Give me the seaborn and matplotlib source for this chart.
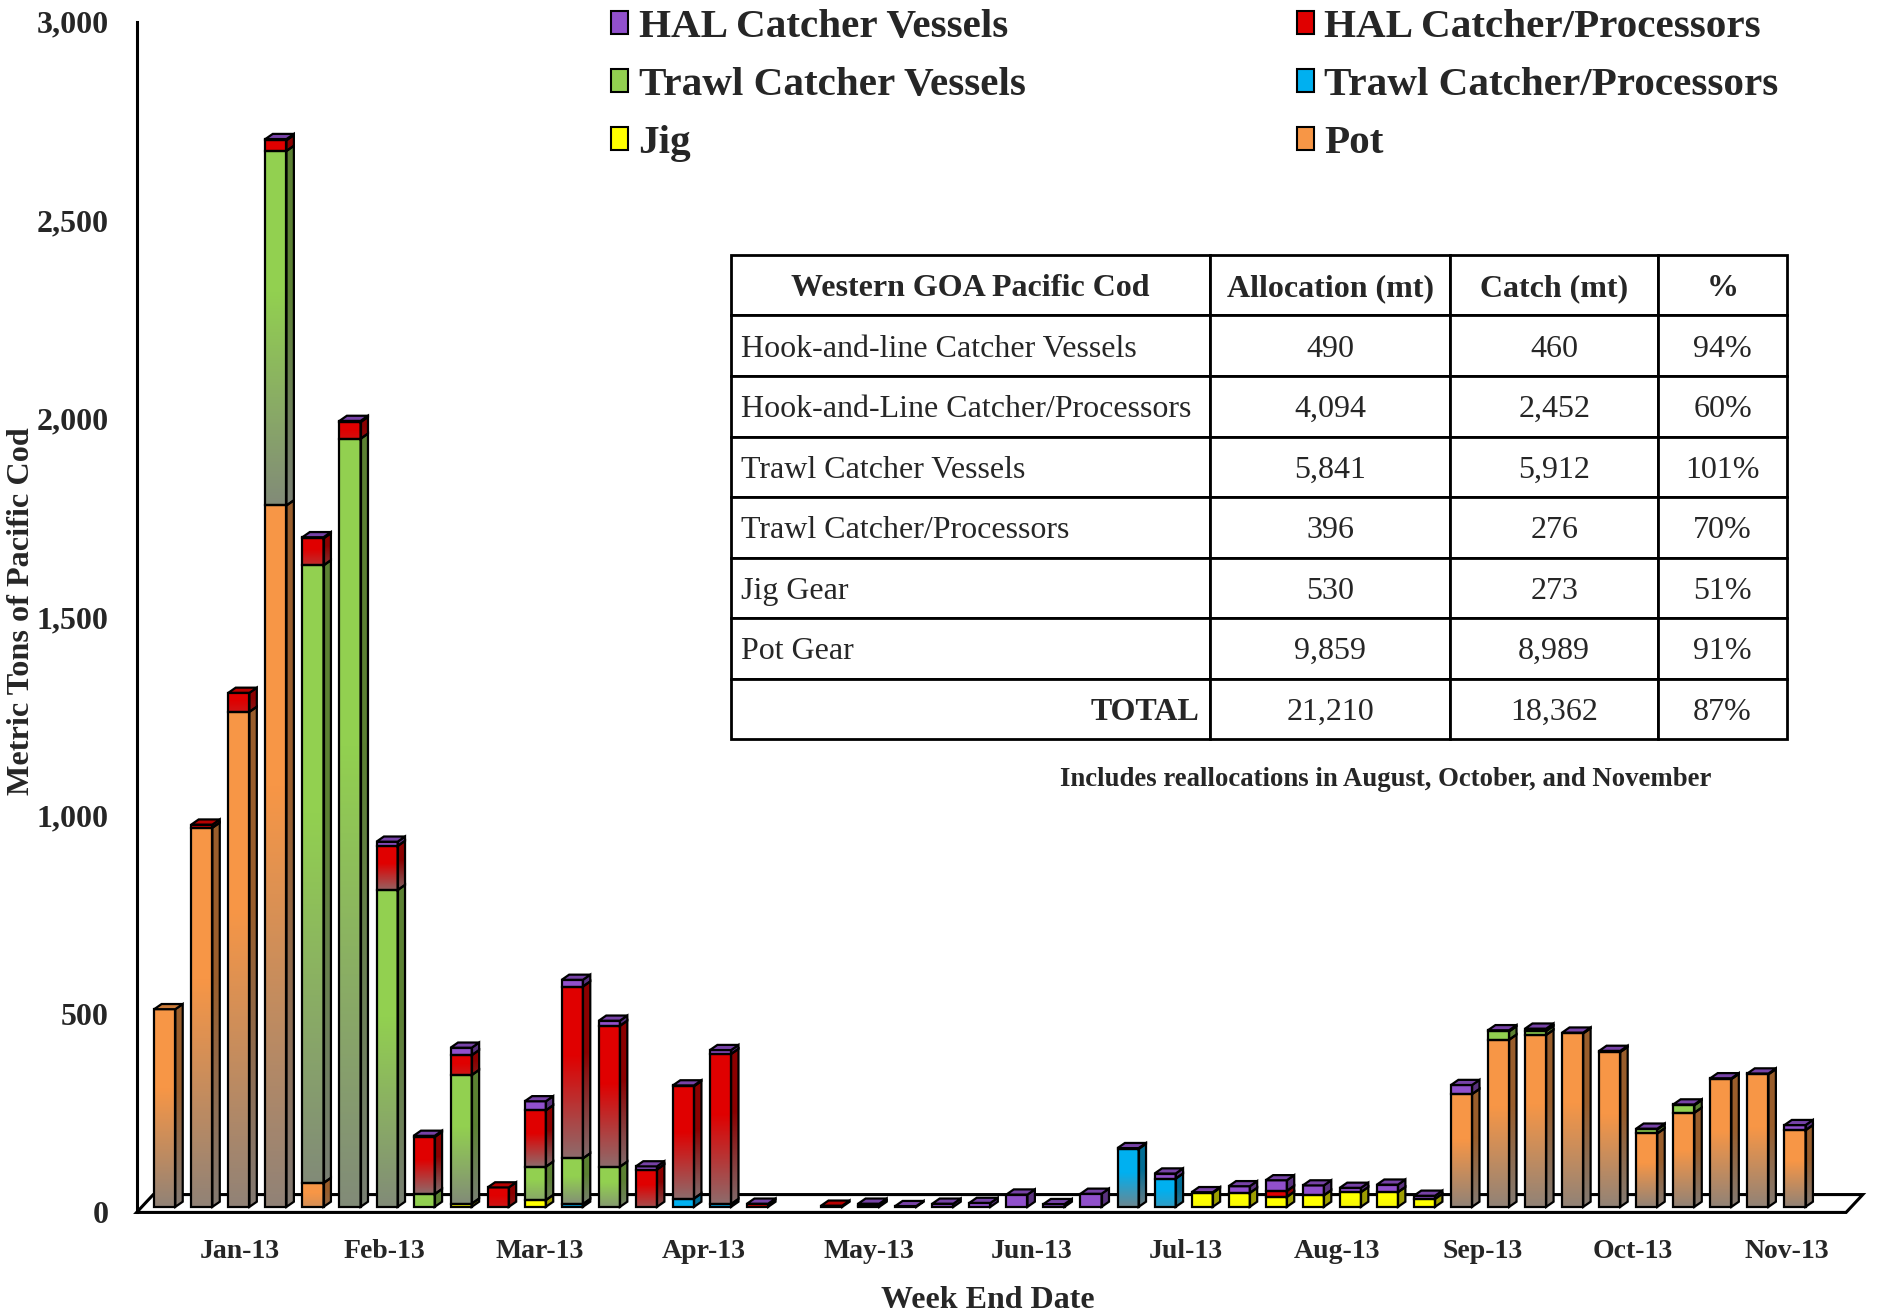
import numpy as np
import pandas as pd
import matplotlib
matplotlib.use("Agg")
import matplotlib.pyplot as plt
import seaborn as sns
from matplotlib.patches import Polygon, Rectangle, Patch
from matplotlib.colors import to_rgb

# Weekly Western GOA Pacific cod catch (mt), week 0 = first week of Jan-13
weeks = list(range(45))

pot = [498, 955, 1247, 1767, 60, 0, 0, 0, 0, 0,
       0, 0, 0, 0, 0, 0, 0, 0, 0, 0,
       0, 0, 0, 0, 0, 0, 0, 0, 0, 0,
       0, 0, 0, 0, 0, 284, 421, 433, 437, 390,
       185, 237, 322, 334, 193]
jig = [0, 0, 0, 0, 0, 0, 0, 0, 8, 0,
       17, 0, 0, 0, 0, 0, 0, 0, 0, 0,
       0, 0, 0, 0, 0, 0, 0, 0, 35, 35,
       25, 29, 37, 37, 20, 0, 0, 0, 0, 0,
       0, 0, 0, 0, 0]
trawl_cp = [0, 0, 0, 0, 0, 0, 0, 0, 0, 0,
            0, 7, 0, 0, 21, 7, 0, 0, 0, 0,
            0, 0, 0, 0, 0, 0, 146, 71, 0, 0,
            0, 0, 0, 0, 0, 0, 0, 0, 0, 0,
            0, 0, 0, 0, 0]
trawl_cv = [0, 0, 0, 893, 1556, 1935, 798, 32, 324, 0,
            84, 115, 101, 0, 0, 0, 0, 0, 0, 0,
            0, 0, 0, 0, 0, 0, 0, 0, 0, 0,
            0, 0, 0, 0, 0, 0, 21, 10, 0, 0,
            10, 19, 0, 0, 0]
hal_cp = [0, 8, 48, 27, 68, 42, 111, 144, 50, 49,
          142, 433, 355, 94, 283, 378, 6, 0, 3, 3,
          0, 0, 0, 0, 0, 0, 0, 0, 0, 0,
          15, 0, 0, 0, 0, 0, 0, 0, 0, 0,
          0, 0, 0, 0, 0]
hal_cv = [0, 0, 0, 3, 3, 3, 11, 3, 19, 0,
          23, 17, 13, 8, 2, 10, 2, 0, 0, 5,
          2, 8, 10, 31, 7, 33, 2, 13, 2, 17,
          27, 25, 11, 19, 8, 23, 3, 6, 2, 3,
          2, 2, 2, 2, 13]

# stacking order bottom -> top
series = ["Pot", "Jig", "Trawl Catcher/Processors", "Trawl Catcher Vessels",
          "HAL Catcher/Processors", "HAL Catcher Vessels"]
values = [pot, jig, trawl_cp, trawl_cv, hal_cp, hal_cv]
colors = ["#F79646", "#FFFF00", "#00B0F0", "#92D050", "#E00000", "#9150CC"]
legend_order = ["HAL Catcher Vessels", "Trawl Catcher Vessels", "Jig",
                "HAL Catcher/Processors", "Trawl Catcher/Processors", "Pot"]

month_labels = ["Jan-13", "Feb-13", "Mar-13", "Apr-13", "May-13", "Jun-13",
                "Jul-13", "Aug-13", "Sep-13", "Oct-13", "Nov-13"]
month_label_pos = [2.02, 5.93, 10.13, 14.56, 19.0, 23.4, 27.56, 31.63, 35.58, 39.63, 43.77]
month_tick_pos = [-0.76, 3.22, 7.22, 11.22, 15.22, 19.22, 23.22, 27.22, 31.22, 35.22, 39.22, 43.22]
y_ticks = [0, 500, 1000, 1500, 2000, 2500, 3000]
y_tick_labels = ["0", "500", "1,000", "1,500", "2,000", "2,500", "3,000"]

table_header = ["Western GOA Pacific Cod", "Allocation (mt)", "Catch (mt)", "%"]
table_rows = [
    ["Hook-and-line Catcher Vessels", "490", "460", "94%"],
    ["Hook-and-Line Catcher/Processors", "4,094", "2,452", "60%"],
    ["Trawl Catcher Vessels", "5,841", "5,912", "101%"],
    ["Trawl Catcher/Processors", "396", "276", "70%"],
    ["Jig Gear", "530", "273", "51%"],
    ["Pot Gear", "9,859", "8,989", "91%"],
    ["TOTAL", "21,210", "18,362", "87%"],
]
note = "Includes reallocations in August, October, and November"

# 3-D look
BASE = 14          # bars stand a little behind the front edge of the floor
BAR_W = 0.57
DX, DY = 0.2, 13   # depth of each column
FLOOR_DX, FLOOR_DY = 0.45, 45
LW = 1.6

sns.set_style("white")
plt.rcParams["font.family"] = ["Liberation Serif", "DejaVu Serif"]

fig = plt.figure(figsize=(18.79, 13.15), dpi=100)
ax = fig.add_axes([0.0727, 0.078, 0.9273, 0.9056])


def shade(c, f):
    return tuple(np.clip(np.array(to_rgb(c)) * f, 0, 1))


def fade(patch, x0, x1, y0, y1, strength):
    # grey gradient at the bottom of each segment, like the Excel fill
    n = 80
    t = np.linspace(0, 1, n)
    img = np.zeros((n, 1, 4))
    img[..., :3] = 0.5
    img[:, 0, 3] = np.clip(1 - t / 0.6, 0, 1) * 0.85 * strength
    im = ax.imshow(img, extent=[x0, x1, y0, y1], origin="lower", aspect="auto",
                   interpolation="bilinear", zorder=2.5)
    im.set_clip_path(patch)


# stacked columns, one seaborn barplot per series, shifted onto the running total
bottom = np.full(len(weeks), float(BASE))
segments = []
for name, vals, col in zip(series, values, colors):
    n0 = len(ax.patches)
    sns.barplot(x=weeks, y=vals, color=col, width=BAR_W, saturation=1,
                edgecolor="none", linewidth=0, errorbar=None, ax=ax, zorder=2)
    for p, b, v in zip(ax.patches[n0:], bottom, vals):
        p.set_y(b)
        segments.append((p, col, v))
    bottom = bottom + np.array(vals, dtype=float)

for p, col, v in segments:
    if v <= 0:
        continue
    x0, y0, w, h = p.get_x(), p.get_y(), p.get_width(), p.get_height()
    x1 = x0 + w
    strength = np.clip((h - 30) / 90, 0, 1)
    side = Polygon([(x1, y0), (x1 + DX, y0 + DY), (x1 + DX, y0 + h + DY), (x1, y0 + h)],
                   closed=True, facecolor=shade(col, 0.62), edgecolor="none", zorder=2)
    ax.add_patch(side)
    if strength > 0:
        fade(p, x0, x1, y0, y0 + h, strength)
        fade(side, x1, x1 + DX, y0, y0 + h + DY, strength)
    ax.add_patch(Rectangle((x0, y0), w, h, fill=False, edgecolor="black", lw=LW, zorder=3))
    ax.add_patch(Polygon(side.get_xy(), closed=True, fill=False, edgecolor="black", lw=LW, zorder=3))

# top faces, coloured by the uppermost non-empty series of each week
for i in range(len(weeks)):
    top_col = None
    for vals, col in zip(values, colors):
        if vals[i] > 0:
            top_col = col
    if top_col is None:
        continue
    p = segments[i][0]
    x0, x1 = p.get_x(), p.get_x() + p.get_width()
    t = bottom[i]
    ax.add_patch(Polygon([(x0, t), (x0 + DX, t + DY), (x1 + DX, t + DY), (x1, t)], closed=True,
                         facecolor=shade(top_col, 0.82), edgecolor="black", lw=LW, zorder=3))

# floor
xl = month_tick_pos[0]
xr = len(weeks) + 0.38
ax.add_patch(Polygon([(xl, 0), (xl + FLOOR_DX, FLOOR_DY), (xr + FLOOR_DX, FLOOR_DY), (xr, 0)],
                     closed=True, facecolor="white", edgecolor="black", lw=2.2, zorder=1,
                     clip_on=False))

ax.set_xlim(xl, xl + 1742.4 / 37.05)
ax.set_ylim(0, 3000)
for s in ["top", "right", "bottom"]:
    ax.spines[s].set_visible(False)
ax.spines["left"].set_linewidth(2.2)
ax.spines["left"].set_color("black")

ax.set_yticks(y_ticks, y_tick_labels)
ax.tick_params(axis="y", direction="out", length=5, width=1.2, color="#555555",
               pad=15, labelsize=23)
for lab in ax.get_yticklabels():
    lab.set_fontweight("bold")

ax.set_xticks(month_tick_pos, [""] * len(month_tick_pos))
ax.set_xticks(month_label_pos, month_labels, minor=True)
ax.tick_params(axis="x", which="major", direction="out", length=8, width=1.2, color="#555555")
ax.tick_params(axis="x", which="minor", length=0, pad=19, labelsize=20)
for lab in ax.get_xticklabels(minor=True):
    lab.set_fontweight("bold")

ax.set_xlabel("Week End Date", fontsize=23, fontweight="bold", va="top")
ax.xaxis.set_label_coords(0.4885, -0.0615)
ax.set_ylabel("Metric Tons of Pacific Cod", fontsize=23.2, fontweight="bold")
ax.yaxis.set_label_coords(-0.0575, 0.505)

# legend
handles = [Patch(facecolor=colors[series.index(n)], edgecolor="black", lw=1.5) for n in legend_order]
fig.legend(handles, legend_order, loc="upper left", bbox_to_anchor=(611 / 1879, 1 - 9 / 1315),
           ncol=2, frameon=False, borderpad=0, borderaxespad=0, handlelength=0.42,
           handleheight=0.5, handletextpad=0.25, columnspacing=6.6, labelspacing=0.51,
           prop={"family": "Liberation Serif", "weight": "bold", "size": 29.6})

# allocation table
tbl = ax.table(cellText=table_rows, colLabels=table_header,
               colWidths=[0.454, 0.227, 0.197, 0.122],
               bbox=[0.3411, 0.3975, 0.6061, 0.4065], cellLoc="center")
tbl.auto_set_font_size(False)
for (r, c), cell in tbl.get_celld().items():
    cell.set_linewidth(2.0)
    cell.set_edgecolor("black")
    cell.set_zorder(5)
    txt = cell.get_text()
    txt.set_fontsize(23)
    txt.set_va("center_baseline")
    if r == 0:
        txt.set_fontweight("bold")
    if c == 0 and r > 0:
        cell.PAD = 0.022
        if table_rows[r - 1][0] == "TOTAL":
            txt.set_ha("right")
            txt.set_fontweight("bold")
        else:
            txt.set_ha("left")

fig.text(1386 / 1879, 1 - 780 / 1315, note, ha="center", va="center",
         fontsize=19.3, fontweight="bold")

fig.savefig("out.png", dpi=100)
